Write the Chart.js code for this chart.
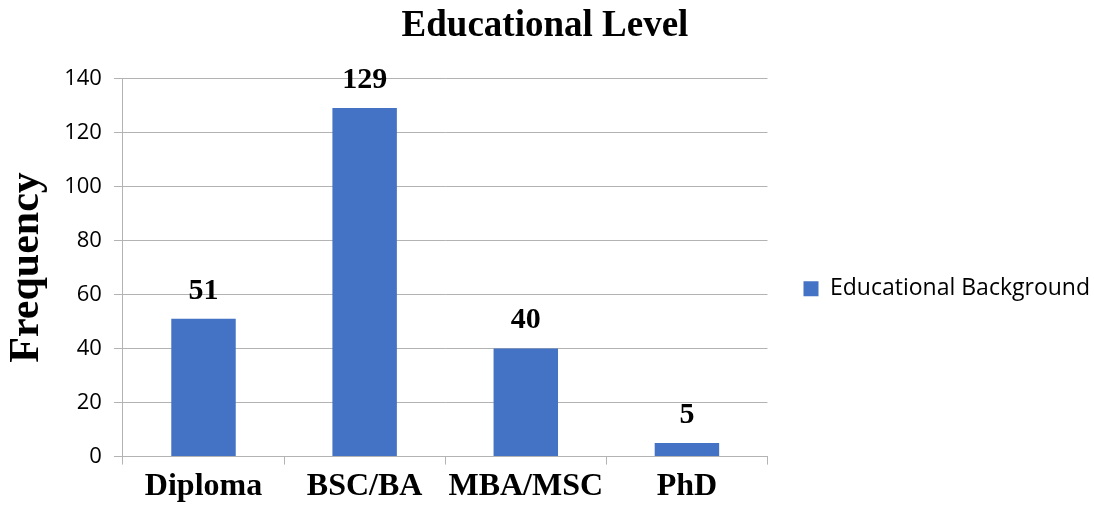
<!DOCTYPE html>
<html>
<head>
<meta charset="utf-8">
<script src="https://cdn.jsdelivr.net/npm/chart.js@4"></script>
<style>
  html, body { margin: 0; padding: 0; background: #fff; }
  #wrap { width: 1095px; height: 509px; }
</style>
</head>
<body>
<div id="wrap"><canvas id="chart" width="1095" height="509"></canvas></div>
<script>
// Data
const categories = ['Diploma', 'BSC/BA', 'MBA/MSC', 'PhD'];
const frequency = [51, 129, 40, 5];
const yTicks = [0, 20, 40, 60, 80, 100, 120, 140];
const seriesName = 'Educational Background';

const BAR = '#4472C4';
const GRID = '#b3b3b3';
const SERIF = "'Liberation Serif', 'Times New Roman', serif";
const SANS = "'Open Sans', Lato, sans-serif";

// Bold value labels above each bar
const valueLabels = {
  id: 'valueLabels',
  afterDatasetsDraw(chart) {
    const ctx = chart.ctx;
    ctx.save();
    ctx.font = `bold 30px ${SERIF}`;
    ctx.fillStyle = '#000';
    ctx.textAlign = 'center';
    ctx.textBaseline = 'bottom';
    chart.data.datasets.forEach((ds, i) => {
      chart.getDatasetMeta(i).data.forEach((bar, j) => {
        ctx.fillText(String(ds.data[j]), bar.x, bar.y - 13);
      });
    });
    ctx.restore();
  },
};

function draw() {
  new Chart(document.getElementById('chart'), {
    type: 'bar',
    data: {
      labels: categories,
      datasets: [{
        label: seriesName,
        data: frequency,
        backgroundColor: BAR,
        borderWidth: 0,
        barPercentage: 0.4,
        categoryPercentage: 1,
      }],
    },
    options: {
      responsive: false,
      animation: false,
      layout: { padding: { left: -10, right: -5, top: 0, bottom: 0 } },
      plugins: {
        title: {
          display: true,
          text: 'Educational Level',
          color: '#000',
          font: { family: SERIF, size: 37, weight: 'bold' },
          padding: { top: 4, bottom: 30 },
        },
        legend: {
          position: 'right',
          maxWidth: 360,
          title: { display: true, text: '', padding: { top: 34, bottom: 20 } },
          labels: {
            color: '#000',
            font: { family: SANS, size: 23 },
            boxWidth: 15,
            boxHeight: 15,
            padding: 36,
          },
        },
        tooltip: { enabled: false },
      },
      scales: {
        x: {
          offset: true,
          grid: {
            offset: true,
            drawOnChartArea: false,
            color: GRID,
            tickLength: 8,
          },
          border: { color: GRID },
          ticks: {
            color: '#000',
            font: { family: SERIF, size: 32, weight: 'bold' },
            padding: 3,
          },
        },
        y: {
          min: 0,
          max: 140,
          afterBuildTicks(scale) {
            scale.ticks = yTicks.map(v => ({ value: v }));
          },
          grid: { color: GRID, tickLength: 9 },
          border: { color: GRID },
          ticks: {
            color: '#000',
            font: { family: SANS, size: 22 },
            padding: 12,
          },
          title: {
            display: true,
            text: 'Frequency',
            color: '#000',
            font: { family: SERIF, size: 42, weight: 'bold', lineHeight: 1.1 },
            padding: { top: 14, bottom: 2 },
          },
        },
      },
    },
    plugins: [valueLabels],
  });
}

Promise.all([
  document.fonts.load(`23px ${SANS}`),
  document.fonts.load(`bold 37px ${SERIF}`),
]).then(draw, draw);
</script>
</body>
</html>
